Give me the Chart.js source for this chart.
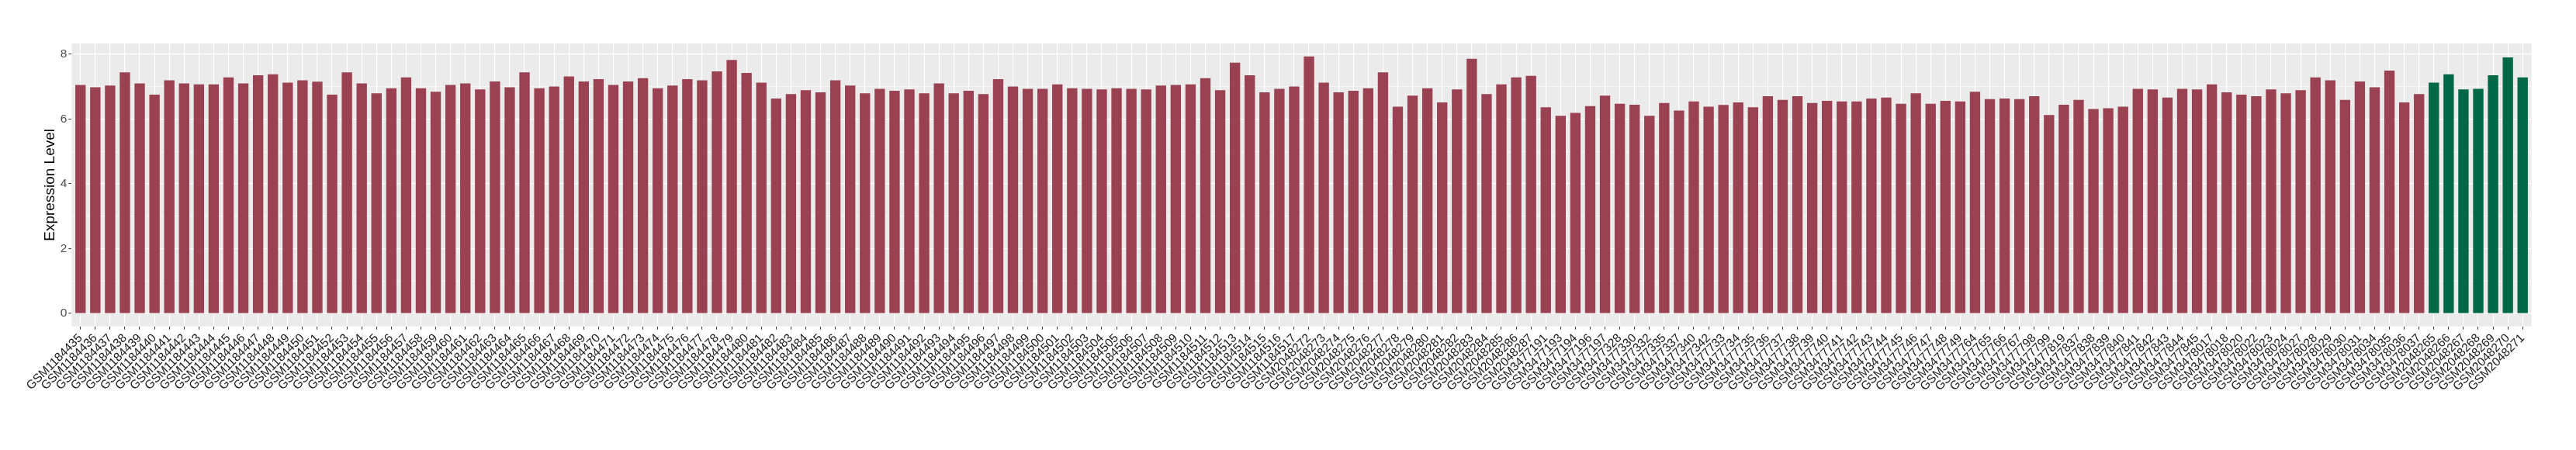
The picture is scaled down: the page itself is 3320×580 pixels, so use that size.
<!DOCTYPE html>
<html>
<head>
<meta charset="utf-8">
<script src="https://cdn.jsdelivr.net/npm/chart.js@4/dist/chart.umd.min.js"></script>
<style>
html,body{margin:0;padding:0;background:#ffffff;}
#wrap{width:3320px;height:580px;}
</style>
</head>
<body>
<div id="wrap"><canvas id="c" width="3320" height="580"></canvas></div>
<script>
// ---- data ----
const labelsA = [
"GSM1184435","GSM1184436","GSM1184437","GSM1184438","GSM1184439","GSM1184440","GSM1184441","GSM1184442","GSM1184443","GSM1184444",
"GSM1184445","GSM1184446","GSM1184447","GSM1184448","GSM1184449","GSM1184450","GSM1184451","GSM1184452","GSM1184453","GSM1184454",
"GSM1184455","GSM1184456","GSM1184457","GSM1184458","GSM1184459","GSM1184460","GSM1184461","GSM1184462","GSM1184463","GSM1184464",
"GSM1184465","GSM1184466","GSM1184467","GSM1184468","GSM1184469","GSM1184470","GSM1184471","GSM1184472","GSM1184473","GSM1184474",
"GSM1184475","GSM1184476","GSM1184477","GSM1184478","GSM1184479","GSM1184480","GSM1184481","GSM1184482","GSM1184483","GSM1184484",
"GSM1184485","GSM1184486","GSM1184487","GSM1184488","GSM1184489","GSM1184490","GSM1184491","GSM1184492","GSM1184493","GSM1184494",
"GSM1184495","GSM1184496","GSM1184497","GSM1184498","GSM1184499","GSM1184500","GSM1184501","GSM1184502","GSM1184503","GSM1184504",
"GSM1184505","GSM1184506","GSM1184507","GSM1184508","GSM1184509","GSM1184510","GSM1184511","GSM1184512","GSM1184513","GSM1184514",
"GSM1184515","GSM1184516","GSM1184517",
"GSM2048272","GSM2048273","GSM2048274","GSM2048275","GSM2048276","GSM2048277","GSM2048278","GSM2048279","GSM2048280","GSM2048281",
"GSM2048282","GSM2048283","GSM2048284","GSM2048285","GSM2048286","GSM2048287",
"GSM3477191","GSM3477193","GSM3477194","GSM3477196","GSM3477197","GSM3477328","GSM3477330","GSM3477332","GSM3477335","GSM3477337",
"GSM3477340","GSM3477342",
"GSM3477733","GSM3477734","GSM3477735","GSM3477736","GSM3477737","GSM3477738","GSM3477739","GSM3477740","GSM3477741","GSM3477742",
"GSM3477743","GSM3477744","GSM3477745","GSM3477746","GSM3477747","GSM3477748","GSM3477749","GSM3477764","GSM3477765","GSM3477766",
"GSM3477767","GSM3477798","GSM3477799","GSM3477819","GSM3477837","GSM3477838","GSM3477839","GSM3477840","GSM3477841","GSM3477842",
"GSM3477843","GSM3477844","GSM3477845",
"GSM3478017","GSM3478018","GSM3478020","GSM3478022","GSM3478023","GSM3478024","GSM3478027","GSM3478028","GSM3478029","GSM3478030",
"GSM3478031","GSM3478034","GSM3478035","GSM3478036","GSM3478037"
];
const valuesA = [
7.05,6.98,7.03,7.44,7.10,6.75,7.19,7.10,7.07,7.07,7.28,7.10,7.35,
7.38,7.12,7.19,7.15,6.75,7.44,7.10,6.79,6.95,7.28,6.95,6.84,7.05,7.10,
6.91,7.16,6.98,7.44,6.95,7.00,7.31,7.16,7.23,7.05,7.16,7.26,6.95,7.03,
7.23,7.19,7.47,7.82,7.42,7.12,6.63,6.77,6.89,6.82,7.19,7.03,6.79,6.93,
6.87,6.91,6.79,7.10,6.79,6.87,6.77,7.23,7.00,6.93,6.93,7.07,6.95,6.93,
6.91,6.95,6.93,6.91,7.03,7.05,7.07,7.26,6.89,7.74,7.35,6.82,6.93,7.00,
7.93,7.12,6.82,6.87,6.95,7.44,6.38,6.72,6.95,6.51,6.91,7.86,6.77,7.07,7.28,
7.33,6.36,6.10,6.19,6.40,6.72,6.47,6.44,6.10,6.49,6.26,6.54,6.38,6.43,
6.51,6.36,6.70,6.59,6.70,6.49,6.56,6.54,6.54,6.63,6.66,6.47,6.79,6.47,
6.56,6.54,6.84,6.61,6.63,6.61,6.70,6.12,6.44,6.59,6.31,6.33,6.38,6.93,
6.91,6.66,6.93,6.91,7.07,6.82,6.75,6.70,6.91,6.79,6.89,7.28,7.19,6.59,
7.16,6.98,7.49,6.51,6.77
];
const labelsB = ["GSM2048265","GSM2048266","GSM2048267","GSM2048268","GSM2048269","GSM2048270","GSM2048271"];
const valuesB = [7.12,7.38,6.91,6.93,7.35,7.90,7.28];
const yTickValues = [0,2,4,6,8];
const yMinorValues = [1,3,5,7];
const yAxisTitle = "Expression Level";

// ---- build ----
const allLabels = labelsA.concat(labelsB);
const dataA = valuesA.map((v, i) => ({x: i, y: v}));
const dataB = valuesB.map((v, i) => ({x: labelsA.length + i, y: v}));
const yGridValues = yTickValues.concat(yMinorValues).sort((a, b) => a - b);
const isMajor = v => yTickValues.indexOf(v) !== -1;
const FONT = "'Liberation Sans', Arial, Helvetica, sans-serif";

const panelBg = {
  id: 'panelBg',
  beforeDraw(chart) {
    const {ctx, chartArea: a} = chart;
    ctx.save();
    ctx.fillStyle = '#EBEBEB';
    ctx.fillRect(a.left, a.top, a.right - a.left, a.bottom - a.top);
    ctx.restore();
  }
};

new Chart(document.getElementById('c'), {
  type: 'bar',
  data: {
    datasets: [
      {label: 'A', data: dataA, backgroundColor: '#9A4251', grouped: false, barPercentage: 0.7, categoryPercentage: 1.0},
      {label: 'B', data: dataB, backgroundColor: '#006847', grouped: false, barPercentage: 0.7, categoryPercentage: 1.0}
    ]
  },
  options: {
    responsive: false,
    animation: false,
    devicePixelRatio: 1,
    layout: {padding: {left: 0, right: 57.3, top: 56, bottom: 0}},
    plugins: {legend: {display: false}, tooltip: {enabled: false}},
    scales: {
      x: {
        type: 'linear',
        bounds: 'data',
        offset: false,
        min: -0.6,
        max: allLabels.length - 1 + 0.6,
        grid: {color: '#FFFFFF', lineWidth: 1.1, offset: false, drawTicks: true, tickLength: 4, tickColor: '#333333', tickWidth: 1},
        border: {display: false},
        ticks: {
          autoSkip: false, maxRotation: 45, minRotation: 45, padding: 2,
          color: '#1A1A1A', font: {family: FONT, size: 15.5},
          callback: v => allLabels[v] !== undefined ? allLabels[v] : ''
        },
        afterBuildTicks: axis => { axis.ticks = allLabels.map((_, i) => ({value: i})); },
        afterFit: axis => { axis.height = 159.3; }
      },
      y: {
        type: 'linear',
        bounds: 'data',
        min: -0.4,
        max: 8.33,
        grid: {
          color: '#FFFFFF',
          lineWidth: c => (c.tick && isMajor(c.tick.value)) ? 1.2 : 0.6,
          drawTicks: true, tickLength: 4, tickWidth: 1,
          tickColor: c => (c.tick && isMajor(c.tick.value)) ? '#333333' : 'rgba(0,0,0,0)'
        },
        border: {display: false},
        ticks: {
          padding: 2, color: '#4D4D4D', font: {family: FONT, size: 15.5},
          callback: v => isMajor(v) ? String(v) : ''
        },
        title: {display: true, text: yAxisTitle, color: '#000000', font: {family: FONT, size: 19}, padding: {top: 53, bottom: 0}},
        afterBuildTicks: axis => { axis.ticks = yGridValues.map(v => ({value: v})); },
        afterFit: axis => { axis.width = 92.3; }
      }
    }
  },
  plugins: [panelBg]
});
</script>
</body>
</html>
